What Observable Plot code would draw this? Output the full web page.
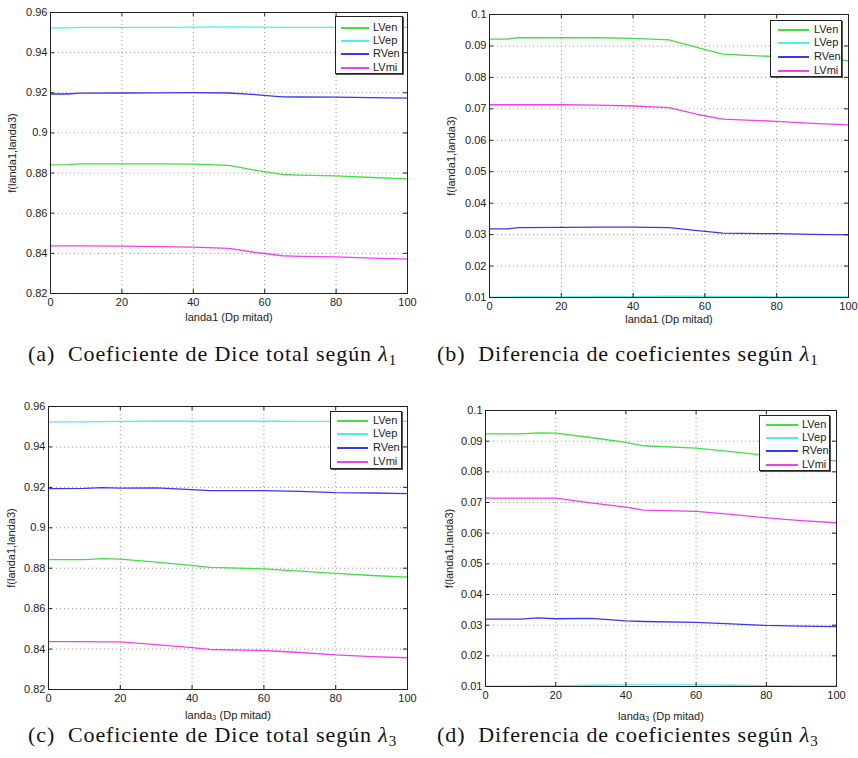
<!DOCTYPE html>
<html>
<head>
<meta charset="utf-8">
<script src="https://cdn.jsdelivr.net/npm/d3@7"></script>
<script src="https://cdn.jsdelivr.net/npm/@observablehq/plot@0.6"></script>
<style>
  html, body { margin: 0; padding: 0; background: #fff; }
  #root { position: relative; width: 858px; height: 758px; overflow: hidden; background: #fff; }
  .pane { position: absolute; }
  .legend { position: absolute; background: #fff; border: 1px solid #222; box-shadow: 1px 1px 0 #555;
            font-family: "Liberation Sans", Arial, sans-serif; font-size: 11px; color: #222; box-sizing: border-box; }
  .legend .row { position: absolute; height: 13px; line-height: 13px; }
  .legend .sw { position: absolute; top: 6px; height: 2px; }
  .legend .lb { position: absolute; top: 0; white-space: nowrap; }
  .cap { position: absolute; font-family: "Liberation Serif", "Times New Roman", serif; font-size: 22px; letter-spacing: 0.9px; color: #111; white-space: nowrap; }
  .cap sub { font-size: 15px; vertical-align: -4px; line-height: 0; letter-spacing: 0; }
</style>
</head>
<body>
<div id="root"></div>
<script>
// ---------- data ----------
const seriesNames = ["LVen", "LVep", "RVen", "LVmi"];
const seriesColors = ["#40e040", "#48f0f0", "#3838f0", "#f040f0"];
const xTicks = [0, 20, 40, 60, 80, 100];
const yTicksDice = [0.82, 0.84, 0.86, 0.88, 0.9, 0.92, 0.94, 0.96];
const yTicksDiff = [0.01, 0.02, 0.03, 0.04, 0.05, 0.06, 0.07, 0.08, 0.09, 0.1];

// lambda1 sweep
const lambda1 = [0, 5, 8, 20, 30, 40, 50, 58, 65, 70, 80, 90, 100];
const a_LVen = [0.8841, 0.8842, 0.8846, 0.8846, 0.8846, 0.8845, 0.8838, 0.8812, 0.8793, 0.8790, 0.8786, 0.8778, 0.8771];
const a_LVep = [0.9523, 0.9523, 0.9526, 0.9526, 0.9526, 0.9527, 0.9528, 0.9527, 0.9526, 0.9526, 0.9526, 0.9526, 0.9526];
const a_RVen = [0.9194, 0.9194, 0.9198, 0.9199, 0.9200, 0.9201, 0.9199, 0.9190, 0.9180, 0.9179, 0.9178, 0.9176, 0.9173];
const a_LVmi = [0.8437, 0.8437, 0.8437, 0.8436, 0.8434, 0.8431, 0.8425, 0.8403, 0.8388, 0.8385, 0.8382, 0.8376, 0.8371];

const b_LVen = [0.0922, 0.0922, 0.0926, 0.0926, 0.0926, 0.0924, 0.0919, 0.0895, 0.0874, 0.0871, 0.0866, 0.0860, 0.0853];
const b_LVep = [0.0101, 0.0101, 0.0102, 0.0102, 0.0103, 0.0103, 0.0104, 0.0104, 0.0103, 0.0103, 0.0102, 0.0102, 0.0102];
const b_RVen = [0.0318, 0.0318, 0.0322, 0.0323, 0.0324, 0.0324, 0.0322, 0.0313, 0.0305, 0.0304, 0.0303, 0.0301, 0.0299];
const b_LVmi = [0.0713, 0.0713, 0.0713, 0.0713, 0.0712, 0.0709, 0.0704, 0.0682, 0.0667, 0.0665, 0.0660, 0.0654, 0.0649];

// lambda3 sweep
const lambda3 = [0, 10, 15, 20, 30, 40, 45, 60, 70, 80, 90, 100];
const c_LVen = [0.8842, 0.8842, 0.8847, 0.8845, 0.8830, 0.8814, 0.8804, 0.8797, 0.8786, 0.8774, 0.8764, 0.8756];
const c_LVep = [0.9524, 0.9524, 0.9525, 0.9526, 0.9527, 0.9527, 0.9527, 0.9527, 0.9526, 0.9526, 0.9526, 0.9526];
const c_RVen = [0.9194, 0.9195, 0.9199, 0.9196, 0.9197, 0.9189, 0.9184, 0.9184, 0.9180, 0.9174, 0.9172, 0.9169];
const c_LVmi = [0.8437, 0.8437, 0.8436, 0.8436, 0.8422, 0.8407, 0.8398, 0.8393, 0.8383, 0.8371, 0.8363, 0.8357];

const d_LVen = [0.0924, 0.0924, 0.0927, 0.0926, 0.0912, 0.0896, 0.0885, 0.0877, 0.0866, 0.0854, 0.0844, 0.0835];
const d_LVep = [0.0101, 0.0101, 0.0102, 0.0102, 0.0104, 0.0105, 0.0105, 0.0105, 0.0104, 0.0103, 0.0102, 0.0102];
const d_RVen = [0.0320, 0.0320, 0.0324, 0.0321, 0.0322, 0.0314, 0.0312, 0.0309, 0.0304, 0.0299, 0.0297, 0.0295];
const d_LVmi = [0.0714, 0.0714, 0.0714, 0.0714, 0.0699, 0.0685, 0.0675, 0.0671, 0.0661, 0.0650, 0.0641, 0.0634];

const yLabel = "f(landa1,landa3)";
const xLabel1 = "landa1 (Dp mitad)";
const xLabel3 = "landa\u2083 (Dp mitad)";

// ---------- drawing ----------
const root = document.getElementById("root");

function toRows(xs, cols) {
  const rows = [];
  seriesNames.forEach((name, k) => cols[k].forEach((v, i) => rows.push({x: xs[i], y: v, name})));
  return rows;
}

function panel(cfg) {
  const {left, top, width, height, marginLeft, marginRight, marginTop, marginBottom,
         xs, cols, yDomain, yTicks, xLabel, yLabelOffset, xLabelOffset} = cfg;
  const pw = width - marginLeft - marginRight;
  const ph = height - marginTop - marginBottom;
  const data = toRows(xs, cols);
  const tickColor = "#222";
  const svg = Plot.plot({
    width, height, marginLeft, marginRight, marginTop, marginBottom,
    style: {fontFamily: "'Liberation Sans', Arial, sans-serif", fontSize: "11px", color: "#222", background: "#fff", overflow: "visible"},
    x: {domain: [0, 100]},
    y: {domain: yDomain},
    color: {domain: seriesNames, range: seriesColors},
    marks: [
      Plot.gridX(xTicks, {stroke: "#8a8a8a", strokeOpacity: 0.9, strokeDasharray: "1,3"}),
      Plot.gridY(yTicks, {stroke: "#8a8a8a", strokeOpacity: 0.9, strokeDasharray: "1,3"}),
      Plot.line(data, {x: "x", y: "y", z: "name", stroke: "name", strokeWidth: 1.3, curve: "linear"}),
      Plot.tickY(yTicks, {y: d => d, insetRight: pw - 4, stroke: tickColor}),
      Plot.tickY(yTicks, {y: d => d, insetLeft: pw - 4, stroke: tickColor}),
      Plot.tickX(xTicks, {x: d => d, insetTop: ph - 4, stroke: tickColor}),
      Plot.tickX(xTicks, {x: d => d, insetBottom: ph - 4, stroke: tickColor}),
      Plot.axisX(xTicks, {tickSize: 0, tickPadding: 5, label: xLabel, labelAnchor: "center", labelArrow: "none", labelOffset: xLabelOffset}),
      Plot.axisY(yTicks, {tickSize: 0, tickPadding: 3, tickFormat: d => String(d), label: yLabel, labelAnchor: "center", labelArrow: "none", labelOffset: yLabelOffset}),
      Plot.frame({stroke: "#222", strokeWidth: 1})
    ]
  });
  const div = document.createElement("div");
  div.className = "pane";
  div.style.left = left + "px";
  div.style.top = top + "px";
  div.appendChild(svg);
  root.appendChild(div);
}

function legend(cfg) {
  const {left, top, width, height, lineLeft, lineWidth, textLeft, rowTop, rowStep} = cfg;
  const box = document.createElement("div");
  box.className = "legend";
  Object.assign(box.style, {left: left + "px", top: top + "px", width: width + "px", height: height + "px"});
  seriesNames.forEach((name, i) => {
    const row = document.createElement("div");
    row.className = "row";
    row.style.top = Math.round(rowTop + i * rowStep - 6.5) + "px";
    row.style.left = "0px";
    row.style.width = width + "px";
    const sw = document.createElement("div");
    sw.className = "sw";
    Object.assign(sw.style, {left: lineLeft + "px", width: lineWidth + "px", background: seriesColors[i]});
    const lb = document.createElement("div");
    lb.className = "lb";
    lb.style.left = textLeft + "px";
    lb.textContent = name;
    row.appendChild(sw);
    row.appendChild(lb);
    box.appendChild(row);
  });
  root.appendChild(box);
}

function caption(html, left, top) {
  const c = document.createElement("div");
  c.className = "cap";
  c.style.left = left + "px";
  c.style.top = top + "px";
  c.innerHTML = html;
  root.appendChild(c);
}

// (a)
panel({left: 0, top: 0, width: 430, height: 330, marginLeft: 50, marginRight: 23, marginTop: 12, marginBottom: 37,
       xs: lambda1, cols: [a_LVen, a_LVep, a_RVen, a_LVmi], yDomain: [0.82, 0.96], yTicks: yTicksDice,
       xLabel: xLabel1, yLabelOffset: 42, xLabelOffset: 27});
// (b)
panel({left: 430, top: 0, width: 428, height: 330, marginLeft: 59, marginRight: 10, marginTop: 14, marginBottom: 33,
       xs: lambda1, cols: [b_LVen, b_LVep, b_RVen, b_LVmi], yDomain: [0.01, 0.1], yTicks: yTicksDiff,
       xLabel: xLabel1, yLabelOffset: 42, xLabelOffset: 25});
// (c)
panel({left: 0, top: 390, width: 430, height: 330, marginLeft: 48, marginRight: 23, marginTop: 16, marginBottom: 31,
       xs: lambda3, cols: [c_LVen, c_LVep, c_RVen, c_LVmi], yDomain: [0.82, 0.96], yTicks: yTicksDice,
       xLabel: xLabel3, yLabelOffset: 41, xLabelOffset: 29});
// (d)
panel({left: 430, top: 390, width: 428, height: 330, marginLeft: 55, marginRight: 22, marginTop: 20, marginBottom: 34,
       xs: lambda3, cols: [d_LVen, d_LVep, d_RVen, d_LVmi], yDomain: [0.01, 0.1], yTicks: yTicksDiff,
       xLabel: xLabel3, yLabelOffset: 40, xLabelOffset: 33});

// legends
legend({left: 335, top: 16, width: 68, height: 58, lineLeft: 5, lineWidth: 28, textLeft: 37, rowTop: 10, rowStep: 13.4});
legend({left: 770, top: 20, width: 72, height: 57, lineLeft: 7, lineWidth: 31, textLeft: 43, rowTop: 8, rowStep: 13.7});
legend({left: 330, top: 411, width: 72, height: 58, lineLeft: 6, lineWidth: 31, textLeft: 42, rowTop: 8, rowStep: 13.7});
legend({left: 759, top: 415, width: 71, height: 56, lineLeft: 6, lineWidth: 32, textLeft: 42, rowTop: 8, rowStep: 13.4});

// captions
caption("(a)&nbsp; Coeficiente de Dice total según <i>λ</i><sub>1</sub>", 28, 341);
caption("(b)&nbsp; Diferencia de coeficientes según <i>λ</i><sub>1</sub>", 437, 341);
caption("(c)&nbsp; Coeficiente de Dice total según <i>λ</i><sub>3</sub>", 28, 722);
caption("(d)&nbsp; Diferencia de coeficientes según <i>λ</i><sub>3</sub>", 437, 722);
</script>
</body>
</html>
